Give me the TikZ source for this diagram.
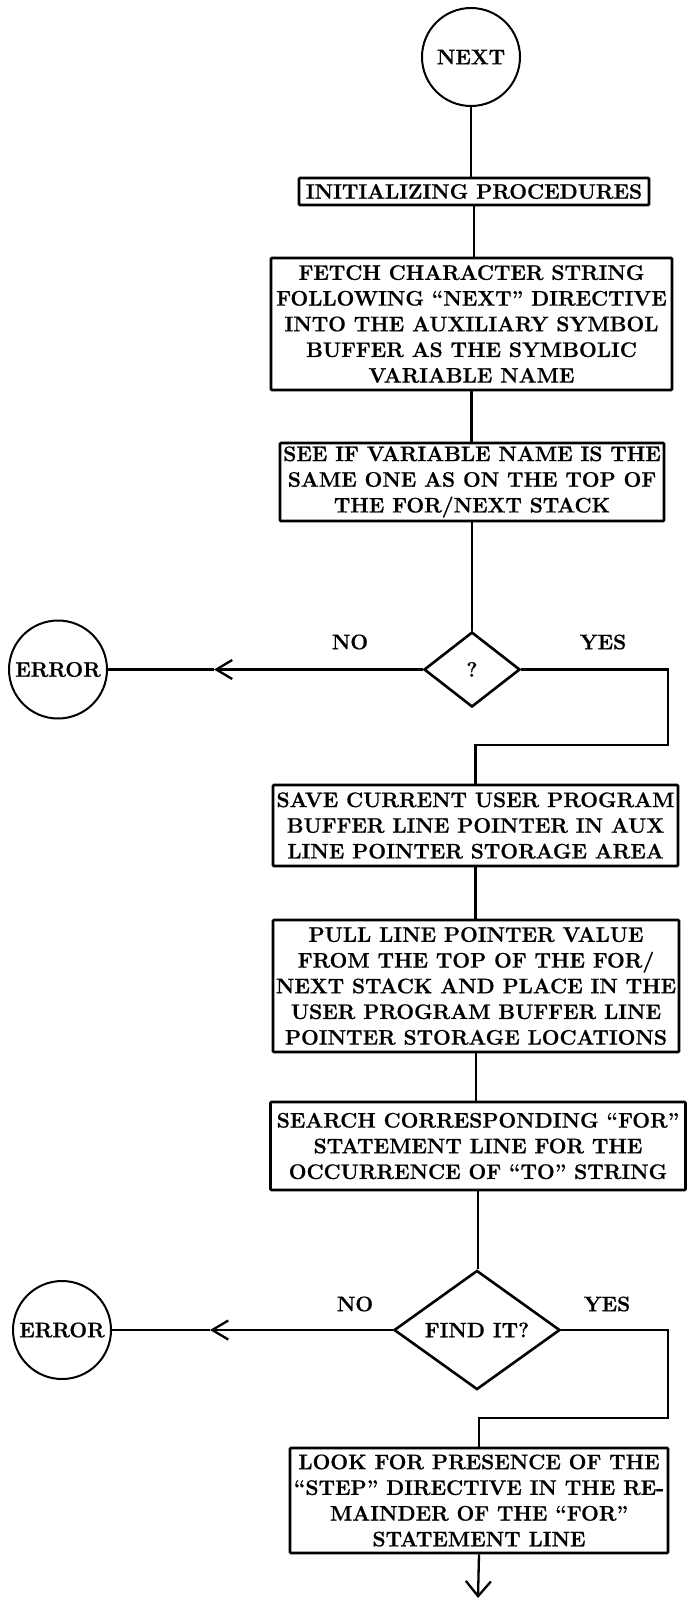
\documentclass[tikz,border=0pt]{standalone}
\usepackage{fontspec}
\setmainfont{Latin Modern Roman}[BoldFeatures={FakeBold=0.8}]
\usetikzlibrary{shapes.geometric,arrows.meta}
\tikzset{
  txt/.style={font={\fontsize{21}{25.7}\selectfont\bfseries}, align=center, inner sep=0pt},
  procbox/.style={txt, draw, line width=2.7pt, rounded corners=1pt},
  term/.style={txt, draw, circle, line width=2pt, minimum size=98pt},
  decision/.style={txt, draw, diamond, line width=2.6pt},
  flow/.style={line width=2.3pt},
  barb/.style={-{Straight Barb[length=16pt,width=19pt,line width=2.3pt]}}
}
\begin{document}
\begin{tikzpicture}[x=1pt,y=-1pt]
\useasboundingbox (0,0) rectangle (687,1601);

% upper part: entry and name check
\node[term] (next) at (471,57) {NEXT};
\node[procbox, minimum width=350pt, minimum height=27pt] (init) at (474,191.5) {INITIALIZING PROCEDURES};
\node[procbox, minimum width=401pt, minimum height=132pt] (fetch) at (471.5,324)
  {FETCH CHARACTER STRING\\FOLLOWING “NEXT” DIRECTIVE\\INTO THE AUXILIARY SYMBOL\\BUFFER AS THE SYMBOLIC\\VARIABLE NAME};
\node[procbox, minimum width=384pt, minimum height=78pt] (see) at (472,482)
  {SEE IF VARIABLE NAME IS THE\\SAME ONE AS ON THE TOP OF\\THE FOR/NEXT STACK};
\node[decision, minimum width=96pt, minimum height=75pt] (q1) at (472,669.5) {?};
\node[term] (err1) at (58,669.5) {ERROR};
\node[txt] (no1) at (350,642) {NO};
\node[txt] (yes1) at (603,642) {YES};
\coordinate (a1) at (214,669.5);
\coordinate (r1) at (668,745);

% middle part: pointer handling
\node[procbox, minimum width=405pt, minimum height=81pt] (save) at (475.5,825.5)
  {SAVE CURRENT USER PROGRAM\\BUFFER LINE POINTER IN AUX\\LINE POINTER STORAGE AREA};
\node[procbox, minimum width=406pt, minimum height=132pt] (pull) at (476,986)
  {PULL LINE POINTER VALUE\\FROM THE TOP OF THE FOR/\\NEXT STACK AND PLACE IN THE\\USER PROGRAM BUFFER LINE\\POINTER STORAGE LOCATIONS};
\node[procbox, minimum width=415pt, minimum height=88pt] (search) at (478,1146)
  {SEARCH CORRESPONDING “FOR”\\STATEMENT LINE FOR THE\\OCCURRENCE OF “TO” STRING};

% lower part: TO search result
\node[decision, minimum width=166pt, minimum height=98pt] (q2) at (477,1330) {FIND IT?};
\node[term] (err2) at (62,1330) {ERROR};
\node[txt] (no2) at (355,1304) {NO};
\node[txt] (yes2) at (607,1304) {YES};
\coordinate (a2) at (210,1330);
\coordinate (r2) at (668,1418);
\node[procbox, minimum width=378pt, minimum height=105pt] (look) at (479,1500.5)
  {LOOK FOR PRESENCE OF THE\\“STEP” DIRECTIVE IN THE RE-\\MAINDER OF THE “FOR”\\STATEMENT LINE};
\coordinate (out) at (478,1598);

% connectors
\draw[flow] (next.south) -- (next.south |- init.north);
\draw[flow] (init.south) -- (init.south |- fetch.north);
\draw[flow] (fetch.south) -- (fetch.south |- see.north);
\draw[flow] (see.south) -- (see.south |- q1.north);
\draw[flow,barb] (q1.west) -- (a1);
\draw[flow] (a1) -- (err1.east);
\draw[flow] (q1.east) -| (r1) -| (save.north);
\draw[flow] (save.south) -- (save.south |- pull.north);
\draw[flow] (pull.south) -- (pull.south |- search.north);
\draw[flow] (search.south) -- (search.south |- q2.north);
\draw[flow,barb] (q2.west) -- (a2);
\draw[flow] (a2) -- (err2.east);
\draw[flow] (q2.east) -| (r2) -| (look.north);
\draw[flow,-{Straight Barb[length=15pt,width=25pt,line width=2.3pt]}] (look.south) -- (out);
\end{tikzpicture}
\end{document}
